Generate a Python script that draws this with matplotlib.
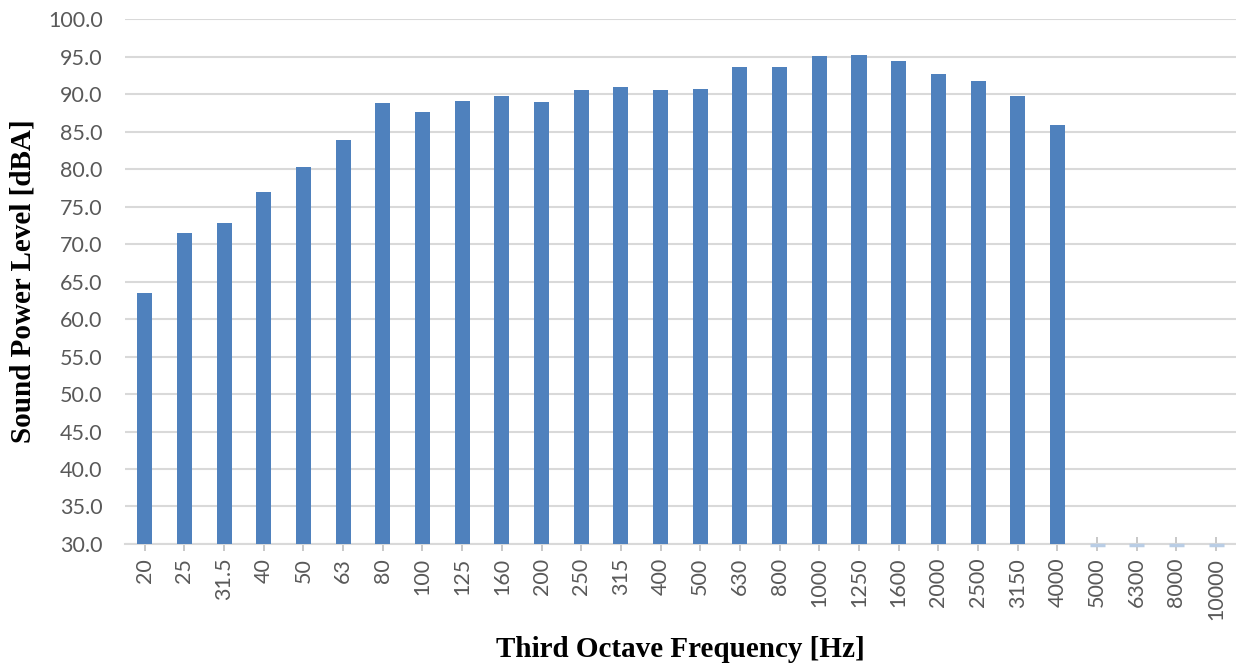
import numpy as np
import matplotlib.pyplot as plt

freqs = ["20", "25", "31.5", "40", "50", "63", "80", "100", "125", "160",
         "200", "250", "315", "400", "500", "630", "800", "1000", "1250",
         "1600", "2000", "2500", "3150", "4000", "5000", "6300", "8000", "10000"]
levels = [63.5, 71.5, 72.8, 76.9, 80.3, 83.9, 88.8, 87.6, 89.1, 89.7,
          88.9, 90.5, 90.9, 90.5, 90.7, 93.6, 93.7, 95.1, 95.2,
          94.5, 92.7, 91.7, 89.7, 85.9, None, None, None, None]

y_min = 30.0
y_max = 100.0

fig = plt.figure(figsize=(12.36, 6.65), dpi=100)
ax = fig.add_axes([0.101, 0.182, 0.899, 0.789])

x = np.arange(len(freqs))
have = [i for i, v in enumerate(levels) if v is not None]
empty = [i for i, v in enumerate(levels) if v is None]

ax.bar([x[i] for i in have], [levels[i] - y_min for i in have], bottom=y_min,
       width=0.38, color="#4F81BD", zorder=3)
# categories without data: Excel leaves a flat stub on the axis
stubs = ax.bar([x[i] for i in empty], [0] * len(empty), bottom=y_min - 0.2,
               width=0.38, color="#B9CDE5", edgecolor="#B9CDE5", linewidth=2.5,
               zorder=3)
for p in stubs:
    p.set_clip_on(False)

ax.set_xlim(-0.5, len(freqs) - 0.5)
ax.set_ylim(y_min, y_max)
ax.set_yticks(np.arange(30, 100.1, 5))
ax.set_yticklabels([f"{v:.1f}" for v in np.arange(30, 100.1, 5)])
ax.set_xticks(x)
ax.set_xticklabels(freqs, rotation=90)

ax.grid(axis="y", color="#D9D9D9", linewidth=1.5, zorder=0)
ax.set_axisbelow(True)
for s in ["top", "right", "left"]:
    ax.spines[s].set_visible(False)
ax.spines["bottom"].set_color("#D9D9D9")
ax.spines["bottom"].set_linewidth(1.5)

ax.tick_params(axis="y", length=0, pad=16, labelsize=15.5, labelcolor="#595959")
ax.tick_params(axis="x", direction="inout", length=10, width=1.2, color="#BFBFBF",
               pad=5, labelsize=15.5, labelcolor="#595959")
for lab in ax.get_xticklabels() + ax.get_yticklabels():
    lab.set_family("Lato")

ax.set_xlabel("Third Octave Frequency [Hz]", family="Liberation Serif",
              fontweight="bold", fontsize=21, labelpad=12)
ax.set_ylabel("Sound Power Level [dBA]", family="Liberation Serif",
              fontweight="bold", fontsize=21, labelpad=8)

fig.savefig("out.png", dpi=100)
